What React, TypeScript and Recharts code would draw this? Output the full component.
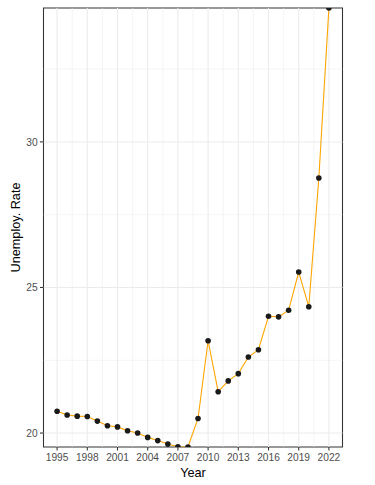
import React from "react";
import { LineChart, Line, XAxis, YAxis, ReferenceLine, ReferenceArea, Label } from "recharts";

const years = [1995,1996,1997,1998,1999,2000,2001,2002,2003,2004,2005,2006,2007,2008,2009,2010,2011,2012,2013,2014,2015,2016,2017,2018,2019,2020,2021,2022];
const rates = [20.75,20.62,20.58,20.57,20.41,20.25,20.21,20.08,20.0,19.85,19.74,19.62,19.53,19.52,20.5,23.17,21.42,21.79,22.04,22.61,22.86,24.01,23.99,24.22,25.53,24.34,28.76,34.6];
const xTicks = [1995,1998,2001,2004,2007,2010,2013,2016,2019,2022];
const xMinorGrid = [1996.5,1999.5,2002.5,2005.5,2008.5,2011.5,2014.5,2017.5,2020.5];
const yTicks = [20,25,30];
const yMinorGrid = [22.5,27.5,32.5];
const xDomain = [1993.65, 2023.35];
const yDomain = [19.52, 34.6];

const data = years.map((y, i) => ({ year: y, rate: rates[i] }));

const FONT = "'Liberation Sans', Arial, sans-serif";

export default function App() {
  return (
    <div style={{ position: "absolute", left: 0, top: 0 }}>
      <LineChart width={375} height={485} data={data} margin={{ top: 8, right: 32.5, left: 0, bottom: 0 }}>
        {xTicks.map((v) => (
          <ReferenceLine key={"xg" + v} x={v} stroke="#ebebeb" strokeWidth={1.07} />
        ))}
        {xMinorGrid.map((v) => (
          <ReferenceLine key={"xm" + v} x={v} stroke="#ebebeb" strokeWidth={0.55} />
        ))}
        {yTicks.map((v) => (
          <ReferenceLine key={"yg" + v} y={v} stroke="#ebebeb" strokeWidth={1.07} />
        ))}
        {yMinorGrid.map((v) => (
          <ReferenceLine key={"ym" + v} y={v} stroke="#ebebeb" strokeWidth={0.55} />
        ))}
        <XAxis
          dataKey="year"
          type="number"
          domain={xDomain}
          allowDataOverflow
          ticks={xTicks}
          interval={0}
          height={38}
          axisLine={false}
          tickSize={3.5}
          tickMargin={3.5}
          tickLine={{ stroke: "#333333", strokeWidth: 1.07 }}
          tick={{ fill: "#4d4d4d", fontSize: 10.2, fontFamily: FONT }}
        >
          <Label
            content={({ viewBox }: any) => (
              <text
                x={viewBox.x + viewBox.width / 2}
                y={viewBox.y + 29.5}
                textAnchor="middle"
                fontSize={12.7}
                fontFamily={FONT}
                fill="#000000"
              >
                Year
              </text>
            )}
          />
        </XAxis>
        <YAxis
          type="number"
          domain={yDomain}
          allowDataOverflow
          ticks={yTicks}
          interval={0}
          width={43.5}
          axisLine={false}
          tickSize={3.5}
          tickMargin={2.3}
          tickLine={{ stroke: "#333333", strokeWidth: 1.07 }}
          tick={{ fill: "#4d4d4d", fontSize: 10.2, fontFamily: FONT }}
        >
          <Label
            content={({ viewBox }: any) => {
              const cx = 16;
              const cy = viewBox.y + viewBox.height / 2;
              return (
                <text
                  x={cx}
                  y={cy}
                  transform={`rotate(-90 ${cx} ${cy})`}
                  textAnchor="middle"
                  dominantBaseline="central"
                  fontSize={12.7}
                  fontFamily={FONT}
                  fill="#000000"
                >
                  Unemploy. Rate
                </text>
              );
            }}
          />
        </YAxis>
        <Line
          dataKey="rate"
          type="linear"
          stroke="#FFA500"
          strokeWidth={1.1}
          isAnimationActive={false}
          dot={{ r: 2.8, fill: "#1a1a1a", stroke: "none", strokeWidth: 0 }}
          activeDot={false}
        />
        <ReferenceArea
          x1={xDomain[0]}
          x2={xDomain[1]}
          y1={yDomain[0]}
          y2={yDomain[1]}
          fill="none"
          stroke="#333333"
          strokeWidth={1.07}
        />
      </LineChart>
    </div>
  );
}
